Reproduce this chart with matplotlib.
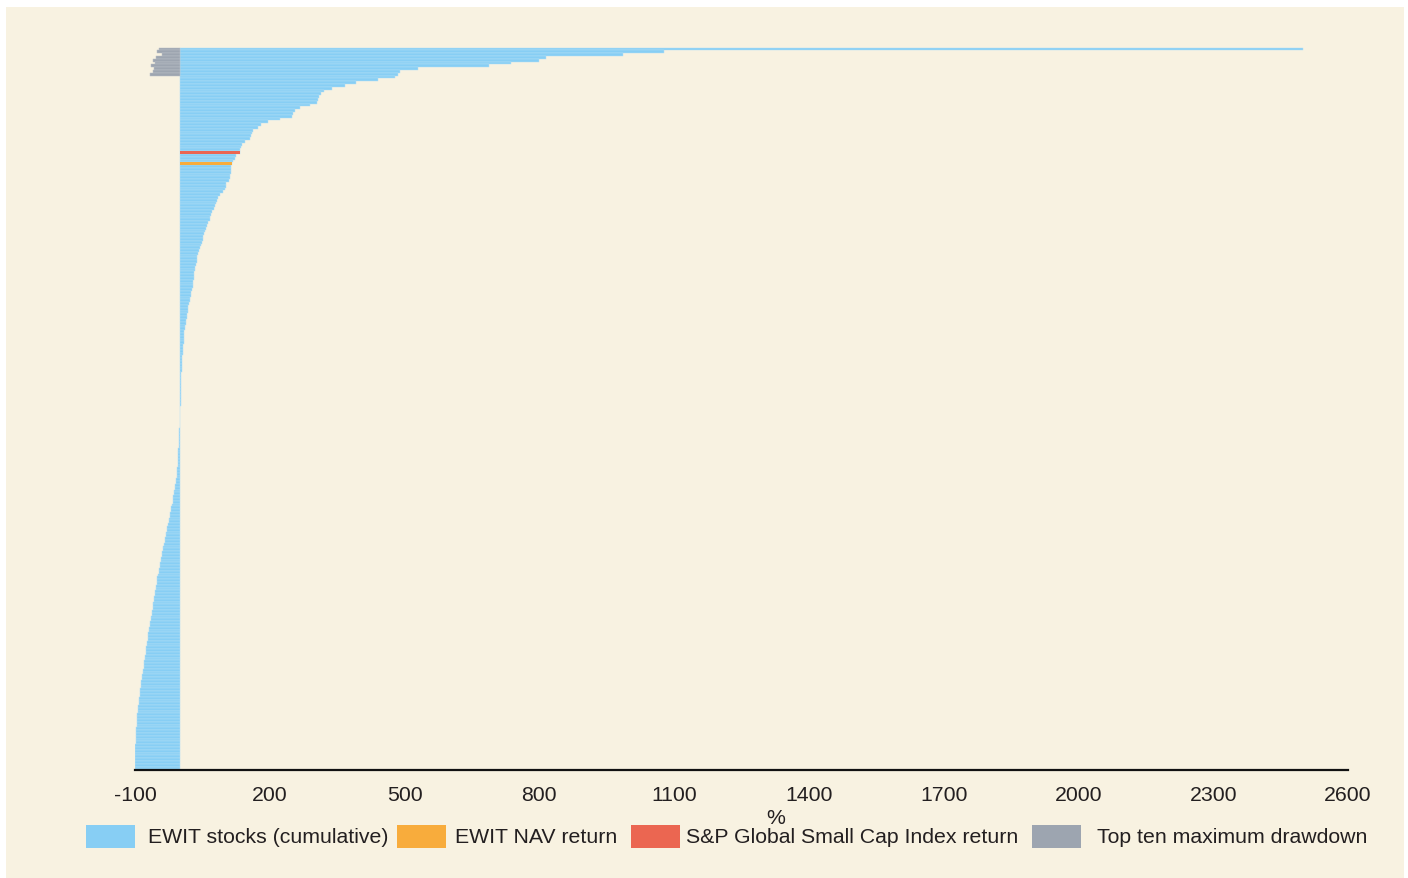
import matplotlib
matplotlib.use("Agg")
from matplotlib import pyplot as plt
from matplotlib.patches import Rectangle

# cumulative returns of the EWIT stocks (%), top to bottom
stock_returns = [
    2500, 1078, 987, 815, 800, 737, 688, 530, 490, 485,
    479, 441, 392, 367, 339, 320, 314, 310, 308, 305,
    290, 267, 256, 252, 249, 223, 197, 180, 174, 162,
    160, 158, 156, 145, 138, 135, 134, 125, 122, 118,
    113, 113, 113, 112, 111, 109, 102, 102, 101, 95,
    89, 85, 83, 80, 79, 75, 71, 69, 68, 67,
    63, 60, 58, 56, 54, 52, 51, 49, 47, 45,
    42, 40, 38, 37, 37, 36, 34, 33, 32, 31,
    31, 30, 29, 28, 27, 25, 24, 23, 22, 21,
    19, 18, 17, 16, 15, 14, 13, 12, 11, 10,
    10, 9, 8, 8, 7, 7, 6, 6, 5, 5,
    4.6, 4.3, 4, 3.8, 3.5, 3.2, 3, 2.8, 2.6, 2.4,
    2.2, 2.1, 2, 1.8, 1.6, 1.4, 1.2, 1.0, 0.8, 0.6,
    0.4, 0.2, -0.2, -0.5, -1, -1.5, -1.8, -2, -2.3, -2.6,
    -3, -3.2, -3.4, -3.6, -3.9, -4.2, -4.5, -5, -5.5, -6,
    -6.5, -7, -8, -9.5, -11, -12, -13, -14, -15, -15.5,
    -16, -18, -19, -20, -22, -23, -24, -25, -26, -28,
    -29, -30, -31, -33, -34, -36, -37, -38, -39, -40,
    -42, -43, -44, -45, -46, -47, -49, -50, -51, -52,
    -53, -54, -55, -56, -57, -58, -59, -60, -61, -62,
    -63, -64, -65, -66, -67, -68, -69, -70, -71, -72,
    -73, -74, -75, -75.5, -76, -77, -78, -79, -80, -81,
    -82, -83, -84, -85, -86, -86.5, -87, -88, -89, -89.5,
    -90, -91, -92, -92.5, -93, -94, -94.5, -95, -95.5, -96,
    -96.5, -97, -97.5, -98, -98, -98.5, -98.5, -99, -99, -99,
    -99, -99, -99, -99, -99, -99,
]
nav_return = 116     # EWIT NAV return
index_return = 134   # S&P Global Small Cap Index return
# maximum drawdown of the ten best stocks (%)
top_ten_drawdown = [-46, -52, -40, -53, -60, -56, -65, -58, -61, -67]

legend_labels = ["EWIT stocks (cumulative)", "EWIT NAV return",
                 "S&P Global Small Cap Index return", "Top ten maximum drawdown"]
x_ticks = [-100, 200, 500, 800, 1100, 1400, 1700, 2000, 2300, 2600]

BLUE = "#87CEF4"
ORANGE = "#F8AC3C"
RED = "#EB6651"
GREY = "#9DA5B0"
CREAM = "#F8F2E1"
TXT = "#231F20"
FS = 15.3

plt.rcParams["font.family"] = ["Liberation Sans", "DejaVu Sans"]

# merge everything into one sorted list, stocks first on ties
rows = [(v, BLUE) for v in stock_returns] + [(index_return, RED), (nav_return, ORANGE)]
rows = sorted(rows, key=lambda r: -r[0])
values = [r[0] for r in rows]
colors = [r[1] for r in rows]
n = len(values)

fig = plt.figure(figsize=(14.08, 8.79), dpi=100)
fig.patch.set_facecolor("white")
fig.patches.append(Rectangle((6 / 1408, 0), 1398 / 1408, 1 - 8 / 879,
                             transform=fig.transFigure, facecolor=CREAM,
                             edgecolor="none", zorder=-5))

ax = fig.add_axes([135 / 1408, 1 - 771 / 879, 1213 / 1408, 724 / 879])
ax.set_facecolor("none")
ax.set_zorder(1)

# thin light edges give the faint stripes between neighbouring bars
ax.barh(range(n), values, height=1.0, color=colors, edgecolor="#B4E0F6", linewidth=0.35)
ax.barh(range(len(top_ten_drawdown)), top_ten_drawdown, height=1.0, color=GREY,
        edgecolor="#BAC0C8", linewidth=0.35)
# keep the two benchmark bars in full colour on top
for i, c in enumerate(colors):
    if c != BLUE:
        ax.barh(i, values[i], height=1.0, color=c, linewidth=0)

ax.set_xlim(-100, 2600)
ax.set_ylim(n - 0.3, -1.1)
ax.set_xticks(x_ticks)
ax.set_xticklabels([str(t) for t in x_ticks])
ax.set_yticks([])
ax.tick_params(axis="x", length=0, pad=11, labelsize=FS, labelcolor=TXT)
for s in ["top", "right", "left"]:
    ax.spines[s].set_visible(False)
ax.spines["bottom"].set_color("#111111")
ax.spines["bottom"].set_linewidth(1.6)
ax.spines["bottom"].set_zorder(5)

fig.text(776 / 1408, 1 - 819 / 879, "%", ha="center", va="center", fontsize=FS, color=TXT)

# legend drawn by hand to keep the original spacing
patch_x = [86, 397, 631, 1032]
text_x = [148, 455, 686, 1097]
leg_colors = [BLUE, ORANGE, RED, GREY]
for px, tx, c, lab in zip(patch_x, text_x, leg_colors, legend_labels):
    fig.patches.append(Rectangle((px / 1408, 1 - 849 / 879), 49 / 1408, 23 / 879,
                                 transform=fig.transFigure, facecolor=c,
                                 edgecolor="none", zorder=2))
    fig.text(tx / 1408, 1 - 838 / 879, lab, ha="left", va="center", fontsize=FS, color=TXT)

fig.savefig("out.png", dpi=100)
